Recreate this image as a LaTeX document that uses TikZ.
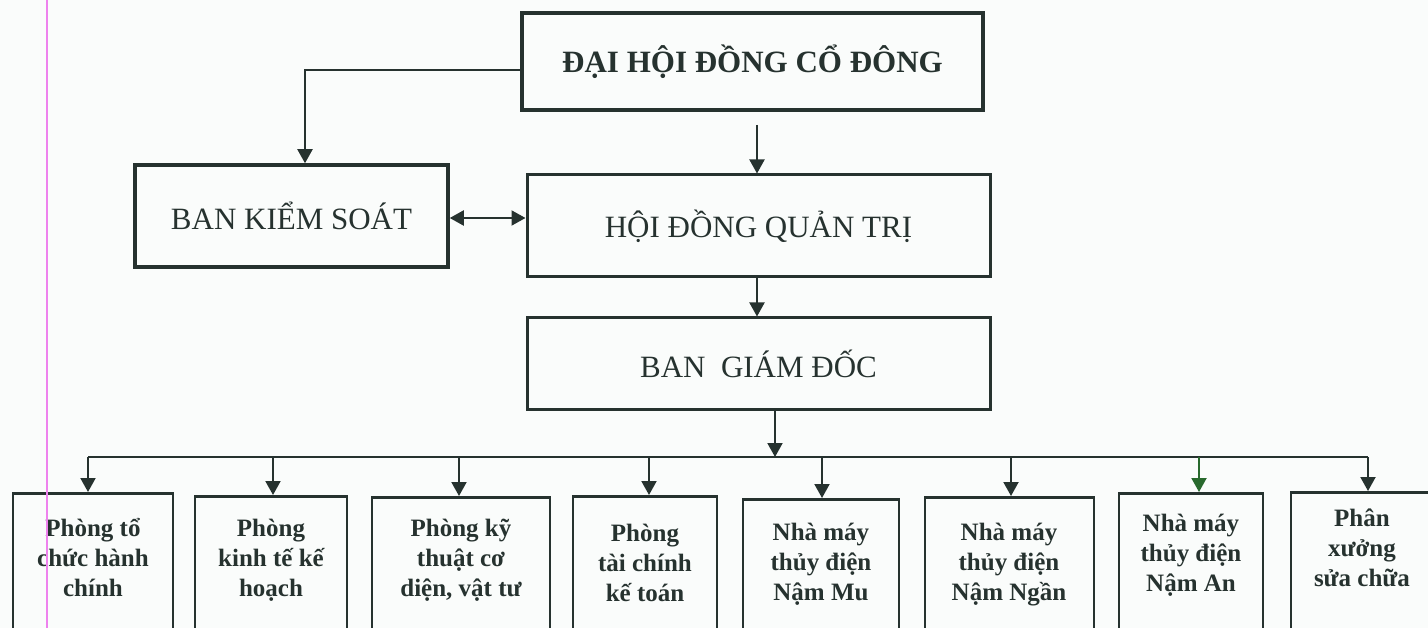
\documentclass[tikz,border=0pt]{standalone}
\usepackage{fontspec}
\setmainfont{Liberation Serif}
\usetikzlibrary{arrows.meta}
\definecolor{ink}{RGB}{38,50,47}
\definecolor{bg}{RGB}{250,252,251}
\definecolor{pinkline}{RGB}{238,130,238}
\definecolor{grn}{RGB}{40,105,45}
\begin{document}
\begin{tikzpicture}[x=1pt,y=-1pt,
  conn/.style={draw=ink, line width=2pt},
  arr/.style={conn, -{Triangle[length=14pt,width=15pt]}},
  big/.style={draw=ink, text=ink, font=\fontsize{31}{36}\selectfont, inner sep=0pt},
  botbox/.style={draw=ink, line width=2.5pt, anchor=north, minimum height=180pt, inner sep=0pt},
  bottxt/.style={text=ink, align=center, font=\fontsize{25}{30}\selectfont\bfseries, inner sep=0pt}]
\fill[bg] (0,0) rectangle (1428,628);
\useasboundingbox (0,0) rectangle (1428,628);

% top boxes
\node[big, line width=4pt, minimum width=461pt, minimum height=97pt,
      font=\fontsize{31}{36}\selectfont\bfseries] (dh) at (752.5,61.5) {ĐẠI HỘI ĐỒNG CỔ ĐÔNG};
\node[big, line width=3.5pt, minimum width=313pt, minimum height=102pt] (bks) at (291.5,216) {BAN KIỂM SOÁT};
\node[big, line width=3pt, minimum width=463pt, minimum height=102pt] (hd) at (758.5,226) {HỘI ĐỒNG QUẢN TRỊ};
\node[big, line width=3pt, minimum width=463pt, minimum height=92pt] (bgd) at (758.5,364) {BAN\ \ GIÁM ĐỐC};

% bottom boxes
\node[botbox, minimum width=160pt] (b1) at (93,492) {};
\node[botbox, minimum width=152pt] (b2) at (271,495) {};
\node[botbox, minimum width=178pt] (b3) at (461,496) {};
\node[botbox, minimum width=144pt] (b4) at (645,495) {};
\node[botbox, minimum width=156pt] (b5) at (821,498) {};
\node[botbox, minimum width=169pt] (b6) at (1009.5,496) {};
\node[botbox, minimum width=144pt] (b7) at (1191,492) {};
\node[botbox, minimum width=154pt] (b8) at (1368,491) {};

\node[bottxt] (t1) at (93,558) {Phòng tổ\\chức hành\\chính};
\node[bottxt] (t2) at (271,560) {Phòng\\kinh tế kế\\hoạch};
\node[bottxt] (t3) at (461,560) {Phòng kỹ\\thuật cơ\\diện, vật tư};
\node[bottxt] (t4) at (645,563) {Phòng\\tài chính\\kế toán};
\node[bottxt] (t5) at (821,564) {Nhà máy\\thủy điện\\Nậm Mu};
\node[bottxt] (t6) at (1009,565) {Nhà máy\\thủy điện\\Nậm Ngần};
\node[bottxt] (t7) at (1191,555) {Nhà máy\\thủy điện\\Nậm An};
\node[bottxt] (t8) at (1362,548) {Phân\\xưởng\\sửa chữa};

% connectors
\draw[arr] ([yshift=-8.5pt]dh.west) -| ([xshift=13.5pt]bks.north);
\draw[arr] ([xshift=4.5pt,yshift=-13pt]dh.south) -- ([xshift=-1.5pt]hd.north);
\draw[arr] ([xshift=-1.5pt]hd.south) -- ([xshift=-1.5pt]bgd.north);
\coordinate (bke) at ([yshift=-2pt]bks.east);
\draw[conn, {Triangle[length=14pt,width=15pt]}-{Triangle[length=14pt,width=15pt]}] (bke) -- (bke -| hd.west);

\coordinate (bus) at (775,457);
\draw[arr] ([xshift=16.5pt]bgd.south) -- (bus);
\foreach \i/\x in {1/88,2/273,3/459,4/649,5/822,6/1011,7/1199,8/1368}
  \coordinate (p\i) at (\x,457);
\draw[conn, line join=miter] (p1) -- (p8);
\foreach \i in {1,2,3,4,5,6,8}
  \draw[arr] (p\i) -- (p\i |- b\i.north);
\draw[arr, draw=grn, fill=grn] (p7) -- (p7 |- b7.north);

% scan margin line
\draw[pinkline, line width=1.5pt] (47,0) -- (47,628);
\end{tikzpicture}
\end{document}
